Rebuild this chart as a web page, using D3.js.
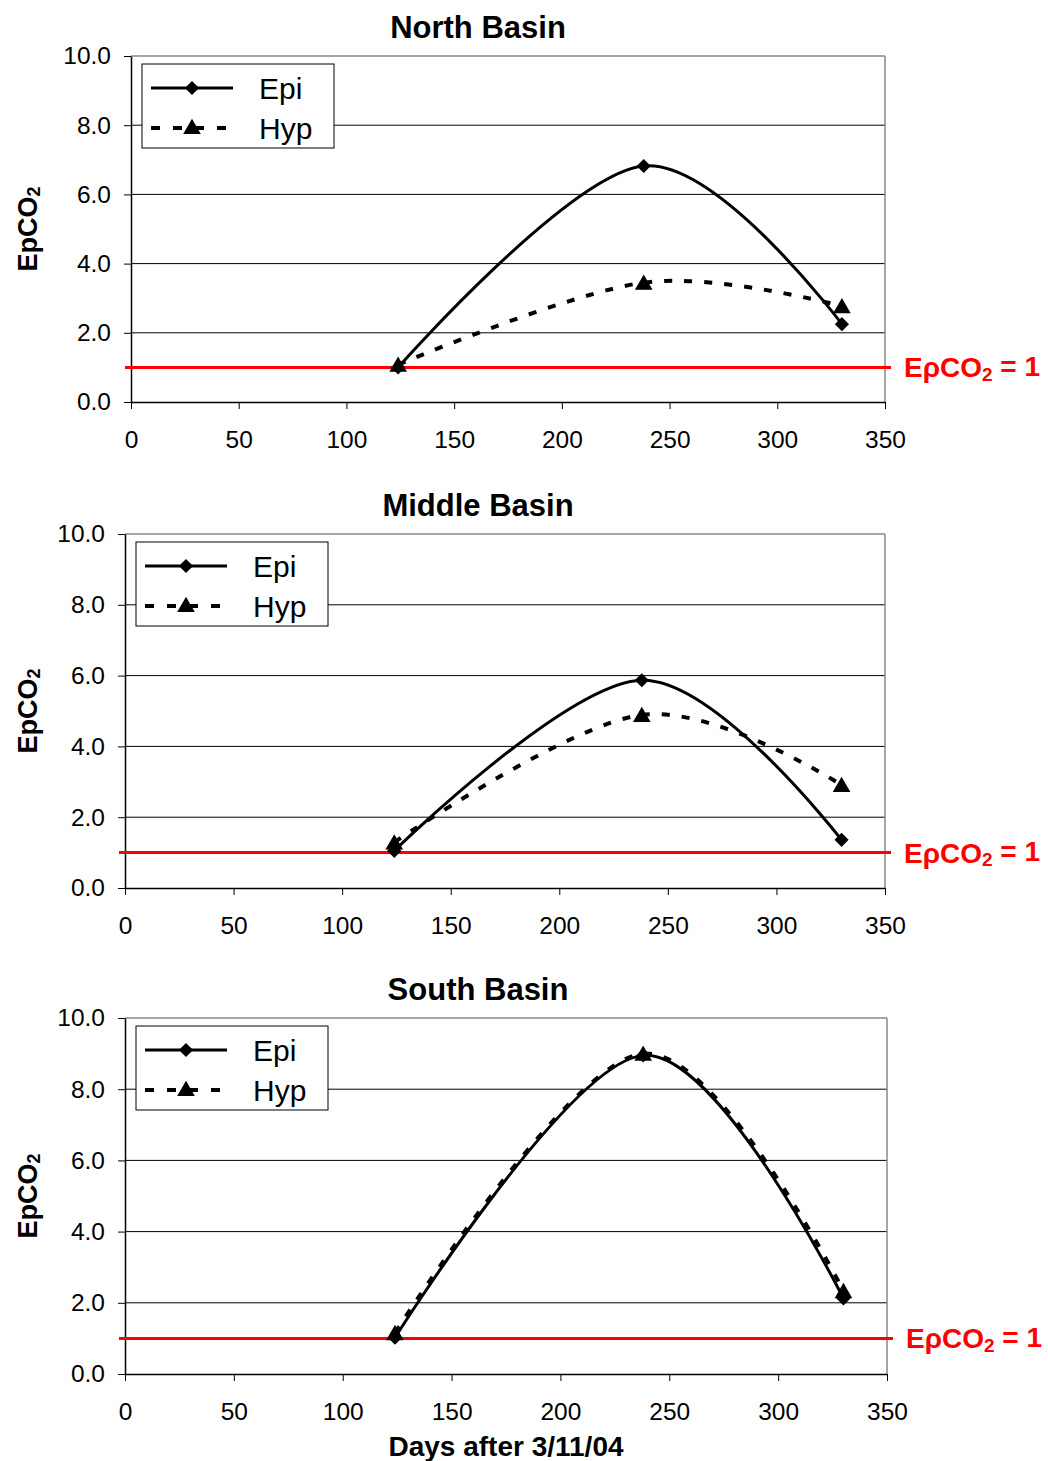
<!DOCTYPE html>
<html>
<head>
<meta charset="utf-8">
<script src="https://cdn.jsdelivr.net/npm/d3@7"></script>
<style>
    body { margin: 0; background: #fff; }
    svg text { font-family: "Liberation Sans", Arial, sans-serif; }
</style>
</head>
<body>
<div id="chart"></div>
<script>
// sampling days (days after 3/11/04)
const days = [124, 238, 330];

// EpCO2 per basin, epilimnion and hypolimnion
const northEpi = [1.0, 6.82, 2.25];
const northHyp = [1.08, 3.45, 2.77];
const middleEpi = [1.05, 5.87, 1.36];
const middleHyp = [1.29, 4.89, 2.91];
const southEpi = [1.02, 8.95, 2.12];
const southHyp = [1.15, 9.0, 2.33];

const basinNames = ['North Basin', 'Middle Basin', 'South Basin'];
const seriesNames = ['Epi', 'Hyp'];
const xTicks = [0, 50, 100, 150, 200, 250, 300, 350];
const yTicks = [0, 2, 4, 6, 8, 10];
const threshold = 1;

const width = 1048;
const height = 1461;

// where each panel's plot area sits on the page
const panels = [
    { name: basinNames[0], epi: northEpi, hyp: northHyp, left: 131, right: 885, top: 56, bottom: 402 },
    { name: basinNames[1], epi: middleEpi, hyp: middleHyp, left: 125, right: 885, top: 534, bottom: 888 },
    { name: basinNames[2], epi: southEpi, hyp: southHyp, left: 125, right: 887, top: 1018, bottom: 1374 }
];

const svg = d3.select('#chart')
    .append('svg')
    .attr('width', width)
    .attr('height', height);

const diamond = d3.symbol().type(d3.symbolSquare).size(100);
const triangle = d3.symbol().type(d3.symbolTriangle).size(135);

panels.forEach((p) => {
    const x = d3.scaleLinear().domain([0, 350]).range([p.left, p.right]);
    const y = d3.scaleLinear().domain([0, 10]).range([p.bottom, p.top]);
    const g = svg.append('g').attr('class', 'panel');

    // gridlines
    g.selectAll('.grid')
        .data(yTicks.filter(v => v > 0 && v < 10))
        .join('line')
        .attr('x1', p.left).attr('x2', p.right)
        .attr('y1', d => y(d)).attr('y2', d => y(d))
        .style('stroke', '#000')
        .style('stroke-width', 1);

    // plot frame, top and right
    g.append('line')
        .attr('x1', p.left).attr('x2', p.right)
        .attr('y1', y(10)).attr('y2', y(10))
        .style('stroke', '#888').style('stroke-width', 1.5);
    g.append('line')
        .attr('x1', x(350)).attr('x2', x(350))
        .attr('y1', y(10)).attr('y2', y(0))
        .style('stroke', '#888').style('stroke-width', 1.5);

    // axes
    const xAxis = g.append('g')
        .attr('transform', `translate(0,${p.bottom})`)
        .call(d3.axisBottom(x).tickValues(xTicks).tickSize(7).tickPadding(22).tickSizeOuter(0));
    const yAxis = g.append('g')
        .attr('transform', `translate(${p.left},0)`)
        .call(d3.axisLeft(y).tickValues(yTicks).tickFormat(d3.format('.1f')).tickSize(7).tickPadding(13).tickSizeOuter(0));
    [xAxis, yAxis].forEach(a => {
        a.attr('font-family', null).attr('font-size', null);
        a.selectAll('text').style('font-size', '24.5px').style('fill', '#000');
        a.selectAll('line').style('stroke', '#000').style('stroke-width', 1);
        a.select('.domain').style('stroke', '#000').style('stroke-width', 1.5);
    });

    // title
    g.append('text')
        .attr('x', 478)
        .attr('y', p.top - 18)
        .style('text-anchor', 'middle')
        .style('font-size', '31px')
        .style('font-weight', 'bold')
        .text(p.name);

    // y axis title
    const yt = g.append('text')
        .attr('transform', `translate(37,${(p.top + p.bottom) / 2}) rotate(-90)`)
        .style('text-anchor', 'middle')
        .style('font-size', '27px')
        .style('font-weight', 'bold');
    yt.append('tspan').text('EpCO');
    yt.append('tspan').attr('dy', '0.15em').style('font-size', '18px').text('2');

    // threshold line EpCO2 = 1
    g.append('line')
        .attr('x1', p.left - 6).attr('x2', p.right + 6)
        .attr('y1', y(threshold)).attr('y2', y(threshold))
        .style('stroke', '#ff0000')
        .style('stroke-width', 3);
    const rt = g.append('text')
        .attr('x', p.right + 19)
        .attr('y', y(threshold) + 10)
        .style('font-size', '28px')
        .style('font-weight', 'bold')
        .style('fill', '#ff0000');
    rt.append('tspan').text('E\u03c1CO');
    rt.append('tspan').attr('dy', '0.2em').style('font-size', '19px').text('2');
    rt.append('tspan').attr('dy', '-0.2em').text(' = 1');

    // series lines (smoothed)
    const line = d3.line()
        .x((d, i) => x(days[i]))
        .y(d => y(d))
        .curve(d3.curveCardinal.tension(0));

    g.append('path')
        .datum(p.epi)
        .attr('d', line)
        .style('fill', 'none')
        .style('stroke', '#000')
        .style('stroke-width', 3);
    g.append('path')
        .datum(p.hyp)
        .attr('d', line)
        .style('fill', 'none')
        .style('stroke', '#000')
        .style('stroke-width', 4)
        .style('stroke-dasharray', '8,12');

    g.selectAll('.epi-marker')
        .data(p.epi)
        .join('path')
        .attr('class', 'epi-marker')
        .attr('d', diamond)
        .attr('transform', (d, i) => `translate(${x(days[i])},${y(d)}) rotate(45)`)
        .style('fill', '#000');
    g.selectAll('.hyp-marker')
        .data(p.hyp)
        .join('path')
        .attr('class', 'hyp-marker')
        .attr('d', triangle)
        .attr('transform', (d, i) => `translate(${x(days[i])},${y(d) + 2})`)
        .style('fill', '#000');

    // legend
    const lx = p.left + 11;
    const ly = p.top + 8;
    const lg = g.append('g').attr('transform', `translate(${lx},${ly})`);
    lg.append('rect')
        .attr('width', 192).attr('height', 84)
        .style('fill', '#fff')
        .style('stroke', '#000')
        .style('stroke-width', 1);
    lg.append('line')
        .attr('x1', 9).attr('x2', 91).attr('y1', 24).attr('y2', 24)
        .style('stroke', '#000').style('stroke-width', 3);
    lg.append('path')
        .attr('d', diamond)
        .attr('transform', 'translate(50,24) rotate(45)')
        .style('fill', '#000');
    lg.append('line')
        .attr('x1', 9).attr('x2', 91).attr('y1', 64).attr('y2', 64)
        .style('stroke', '#000').style('stroke-width', 4)
        .style('stroke-dasharray', '9,13');
    lg.append('path')
        .attr('d', triangle)
        .attr('transform', 'translate(50,65)')
        .style('fill', '#000');
    lg.selectAll('.legend-label')
        .data(seriesNames)
        .join('text')
        .attr('class', 'legend-label')
        .attr('x', 117)
        .attr('y', (d, i) => 35 + i * 40)
        .style('font-size', '30px')
        .text(d => d);
});

// shared x axis title
svg.append('text')
    .attr('x', 506)
    .attr('y', 1456)
    .style('text-anchor', 'middle')
    .style('font-size', '28px')
    .style('font-weight', 'bold')
    .text('Days after 3/11/04');
</script>
</body>
</html>
